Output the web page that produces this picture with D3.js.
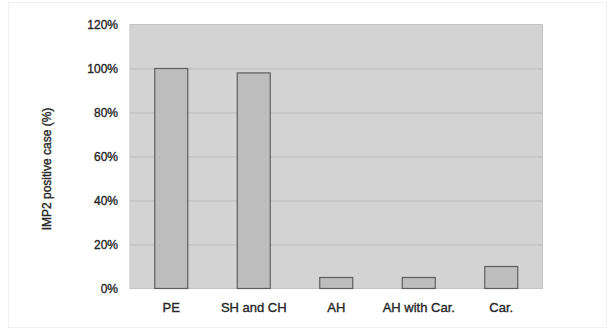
<!DOCTYPE html>
<html>
<head>
<meta charset="utf-8">
<script src="https://cdn.jsdelivr.net/npm/d3@7"></script>
<style>
  html, body { margin: 0; padding: 0; background: #fff; }
  svg { display: block; }
  text { font-family: "Liberation Sans", Arial, sans-serif; }
</style>
</head>
<body>
<svg id="chart" width="610" height="332"></svg>
<script>
// IMP2 positive rate by lesion type
const categories = ["PE", "SH and CH", "AH", "AH with Car.", "Car."];
const positiveRate = [100, 98, 5, 5, 10];
const yTicks = [0, 20, 40, 60, 80, 100, 120];
const yTitle = "IMP2 positive case (%)";

const svg = d3.select("#chart");
const W = 610, H = 332;
const margin = { left: 130, right: 67.5, top: 24.5, bottom: 43.5 };
const innerW = W - margin.left - margin.right;
const innerH = H - margin.top - margin.bottom;

// faint outer frame
svg.append("rect")
  .attr("x", 8.5).attr("y", 2.5)
  .attr("width", 598).attr("height", 325)
  .attr("fill", "none").attr("stroke", "#f0f0f0");

const g = svg.append("g").attr("transform", `translate(${margin.left},${margin.top})`);

const x = d3.scaleBand().domain(categories).range([0, innerW]).paddingInner(0.6).paddingOuter(0.3);
const y = d3.scaleLinear().domain([0, 120]).range([innerH, 0]);

// plot background
g.append("rect")
  .attr("width", innerW).attr("height", innerH)
  .attr("fill", "#d3d3d3").attr("stroke", "#c4c4c4");

// gridlines
g.selectAll("line.grid").data(yTicks.filter(t => t > 0 && t < 120)).join("line")
  .attr("class", "grid")
  .attr("x1", 0).attr("x2", innerW)
  .attr("y1", d => Math.round(y(d)) + 0.5).attr("y2", d => Math.round(y(d)) + 0.5)
  .attr("stroke", "#bbbbbb");

// bars
g.selectAll("rect.bar").data(categories).join("rect")
  .attr("class", "bar")
  .attr("x", d => x(d))
  .attr("width", x.bandwidth())
  .attr("y", (d, i) => y(positiveRate[i]))
  .attr("height", (d, i) => innerH - y(positiveRate[i]))
  .attr("fill", "#bdbdbd")
  .attr("stroke", "#5e5e5e")
  .attr("stroke-width", 1.2);

// shared text styling: slightly heavier strokes for the labels
function styleLabels(sel, size) {
  sel.attr("font-size", size).attr("fill", "#262626")
    .attr("stroke", "#262626").attr("stroke-width", 0.35)
    .attr("font-family", "Liberation Sans, Arial, sans-serif");
}

// y axis
const yAxis = d3.axisLeft(y).tickValues(yTicks).tickFormat(d => d + "%").tickSize(0).tickPadding(12);
const ya = g.append("g").call(yAxis);
ya.select(".domain").remove();
styleLabels(ya.selectAll("text"), 12);

// x axis
const xAxis = d3.axisBottom(x).tickSize(0).tickPadding(14);
const xa = g.append("g").attr("transform", `translate(0,${innerH})`).call(xAxis);
xa.select(".domain").remove();
styleLabels(xa.selectAll("text"), 13);

// y title
const title = svg.append("text")
  .attr("transform", `translate(51,169) rotate(-90)`)
  .attr("text-anchor", "middle")
  .text(yTitle);
styleLabels(title, 12);
</script>
</body>
</html>
